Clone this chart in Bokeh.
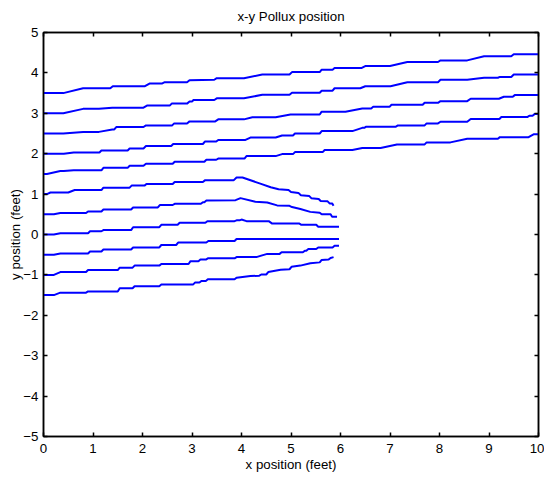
from bokeh.plotting import figure
from bokeh.models import Range1d, FixedTicker, LinearAxis
from bokeh.embed import file_html
from bokeh.resources import INLINE

# ---- data ----
x1 = [0, 0.4, 0.8, 1.35, 1.4, 2.05, 2.15, 2.4, 2.45, 2.9, 2.95, 3.45, 3.5, 4.05, 4.42, 4.97, 5.02, 5.58, 5.62, 5.84, 5.88, 6.42, 6.5, 7.0, 7.35, 7.97, 8.02, 8.56, 8.9, 9.45, 9.5, 10]
y1 = [3.5, 3.5, 3.62, 3.62, 3.67, 3.67, 3.74, 3.74, 3.77, 3.77, 3.82, 3.83, 3.87, 3.87, 3.96, 3.96, 4.02, 4.02, 4.08, 4.08, 4.12, 4.12, 4.17, 4.17, 4.27, 4.27, 4.31, 4.31, 4.41, 4.41, 4.46, 4.46]

x2 = [0, 0.4, 0.8, 1.12, 1.39, 2.02, 2.09, 2.55, 2.59, 2.9, 2.95, 3.0, 3.03, 3.45, 3.5, 4.05, 4.42, 4.97, 5.02, 5.58, 5.62, 5.84, 5.88, 6.4, 6.5, 7.01, 7.35, 7.97, 8.02, 8.56, 8.9, 9.18, 9.22, 9.45, 9.5, 10]
y2 = [3.0, 3.0, 3.11, 3.11, 3.14, 3.14, 3.19, 3.19, 3.24, 3.24, 3.29, 3.29, 3.33, 3.33, 3.37, 3.37, 3.46, 3.46, 3.51, 3.51, 3.56, 3.56, 3.62, 3.62, 3.67, 3.67, 3.77, 3.77, 3.83, 3.83, 3.88, 3.88, 3.9, 3.9, 3.96, 3.96]

x3 = [0, 0.4, 0.8, 1.12, 1.39, 1.43, 1.47, 2.02, 2.07, 2.6, 2.64, 2.9, 2.95, 3.47, 3.53, 4.05, 4.22, 4.69, 4.99, 5.58, 5.62, 6.1, 6.44, 6.62, 6.66, 6.99, 7.03, 7.66, 7.7, 7.97, 8.02, 8.56, 8.63, 9.2, 9.3, 9.48, 9.52, 10]
y3 = [2.5, 2.5, 2.54, 2.54, 2.6, 2.6, 2.66, 2.66, 2.7, 2.7, 2.75, 2.75, 2.8, 2.8, 2.85, 2.85, 2.9, 2.9, 2.97, 2.97, 3.04, 3.04, 3.12, 3.12, 3.16, 3.16, 3.21, 3.21, 3.26, 3.26, 3.3, 3.3, 3.36, 3.36, 3.41, 3.41, 3.45, 3.45]

x4 = [0, 0.41, 0.61, 1.13, 1.17, 1.7, 1.74, 2.02, 2.07, 2.58, 2.62, 3.22, 3.26, 3.49, 3.53, 4.08, 4.18, 4.69, 4.82, 5.04, 5.08, 5.58, 5.62, 6.24, 6.44, 6.48, 6.52, 7.12, 7.16, 7.7, 7.74, 7.97, 8.02, 8.56, 8.63, 9.21, 9.25, 9.78, 9.82, 9.88, 9.92, 10]
y4 = [2.0, 2.0, 2.03, 2.03, 2.08, 2.08, 2.13, 2.13, 2.19, 2.19, 2.24, 2.24, 2.3, 2.3, 2.34, 2.34, 2.4, 2.4, 2.45, 2.45, 2.5, 2.5, 2.56, 2.56, 2.64, 2.64, 2.67, 2.67, 2.7, 2.7, 2.75, 2.75, 2.79, 2.79, 2.86, 2.86, 2.91, 2.91, 2.94, 2.94, 2.98, 2.98]

x5 = [0, 0.07, 0.34, 0.41, 0.61, 1.17, 1.21, 1.7, 1.74, 2.02, 2.07, 2.61, 2.65, 3.25, 3.29, 3.49, 3.53, 4.06, 4.1, 4.69, 4.82, 5.04, 5.08, 5.64, 5.68, 6.24, 6.44, 6.81, 7.14, 7.7, 7.74, 8.22, 8.56, 9.18, 9.22, 9.8, 9.9, 10]
y5 = [1.5, 1.5, 1.57, 1.57, 1.59, 1.59, 1.65, 1.65, 1.7, 1.7, 1.75, 1.75, 1.8, 1.8, 1.85, 1.85, 1.88, 1.88, 1.94, 1.94, 1.99, 1.99, 2.04, 2.04, 2.09, 2.09, 2.14, 2.14, 2.23, 2.23, 2.28, 2.28, 2.37, 2.37, 2.41, 2.41, 2.48, 2.48]

x6 = [0, 0.07, 0.14, 0.5, 0.63, 1.17, 1.21, 1.74, 1.78, 2.04, 2.08, 2.61, 2.65, 3.22, 3.26, 3.84, 3.9, 4.02, 4.38, 4.59, 4.75, 4.95, 5.0, 5.15, 5.2, 5.37, 5.41, 5.56, 5.6, 5.74, 5.78, 5.83, 5.86]
y6 = [1.0, 1.0, 1.04, 1.04, 1.1, 1.1, 1.16, 1.16, 1.21, 1.21, 1.25, 1.25, 1.3, 1.3, 1.34, 1.34, 1.41, 1.41, 1.26, 1.17, 1.12, 1.1, 1.05, 1.03, 0.97, 0.95, 0.9, 0.88, 0.83, 0.82, 0.77, 0.77, 0.71]

x7 = [0, 0.21, 0.34, 0.86, 0.9, 1.17, 1.21, 1.77, 1.81, 2.31, 2.35, 2.61, 2.65, 3.18, 3.22, 3.25, 3.29, 3.88, 3.98, 4.28, 4.52, 4.72, 4.97, 5.02, 5.19, 5.39, 5.58, 5.62, 5.8, 5.83, 5.93]
y7 = [0.5, 0.5, 0.53, 0.53, 0.57, 0.57, 0.62, 0.62, 0.67, 0.67, 0.73, 0.73, 0.76, 0.76, 0.8, 0.8, 0.84, 0.85, 0.9, 0.81, 0.79, 0.72, 0.71, 0.68, 0.63, 0.56, 0.54, 0.5, 0.5, 0.44, 0.44]

x8 = [0, 0.21, 0.34, 0.9, 0.94, 1.17, 1.21, 1.77, 1.81, 2.34, 2.38, 2.71, 2.75, 3.27, 3.31, 3.86, 3.9, 3.96, 4.0, 4.1, 4.55, 4.62, 5.17, 5.21, 5.51, 5.55, 5.97]
y8 = [0.0, 0.0, 0.03, 0.03, 0.08, 0.08, 0.11, 0.11, 0.18, 0.18, 0.24, 0.24, 0.29, 0.29, 0.33, 0.33, 0.35, 0.35, 0.37, 0.33, 0.33, 0.27, 0.27, 0.24, 0.24, 0.19, 0.19]

x9 = [0, 0.21, 0.34, 0.9, 0.94, 1.17, 1.21, 1.77, 1.81, 2.34, 2.38, 2.68, 2.72, 3.29, 3.33, 3.86, 3.9, 5.97]
y9 = [-0.5, -0.5, -0.47, -0.47, -0.42, -0.42, -0.37, -0.37, -0.32, -0.32, -0.26, -0.26, -0.2, -0.2, -0.16, -0.16, -0.11, -0.11]

x10 = [0, 0.21, 0.34, 0.86, 0.9, 1.5, 1.54, 1.8, 1.84, 2.34, 2.38, 2.93, 2.97, 3.13, 3.17, 3.28, 3.32, 3.86, 3.9, 4.3, 4.52, 4.77, 4.81, 5.24, 5.28, 5.31, 5.35, 5.51, 5.55, 5.84, 5.88, 5.97]
y10 = [-1.0, -1.0, -0.93, -0.93, -0.88, -0.88, -0.82, -0.82, -0.77, -0.77, -0.73, -0.73, -0.66, -0.66, -0.62, -0.62, -0.59, -0.59, -0.56, -0.56, -0.48, -0.48, -0.44, -0.44, -0.4, -0.4, -0.36, -0.36, -0.32, -0.32, -0.28, -0.28]

x11 = [0, 0.21, 0.34, 0.86, 0.9, 1.5, 1.54, 1.8, 1.84, 2.34, 2.38, 3.02, 3.06, 3.15, 3.19, 3.28, 3.32, 3.86, 3.9, 4.18, 4.36, 4.4, 4.5, 4.54, 4.79, 4.97, 5.01, 5.19, 5.39, 5.58, 5.62, 5.76, 5.8, 5.86]
y11 = [-1.5, -1.5, -1.44, -1.44, -1.41, -1.41, -1.33, -1.33, -1.28, -1.28, -1.24, -1.24, -1.19, -1.19, -1.15, -1.15, -1.11, -1.11, -1.07, -1.03, -1.02, -0.99, -0.99, -0.93, -0.87, -0.86, -0.8, -0.77, -0.71, -0.69, -0.63, -0.62, -0.58, -0.56]

x_ticks = [0, 1, 2, 3, 4, 5, 6, 7, 8, 9, 10]
y_ticks = [-5, -4, -3, -2, -1, 0, 1, 2, 3, 4, 5]

title_text = "x-y Pollux position"
x_label = "x position (feet)"
y_label = "y position (feet)"

FONT = "Liberation Sans"
FS = "13.3px"

xs_all = [x1, x2, x3, x4, x5, x6, x7, x8, x9, x10, x11]
ys_all = [y1, y2, y3, y4, y5, y6, y7, y8, y9, y10, y11]

p = figure(width=544, height=484,
           x_range=Range1d(0, 10), y_range=Range1d(-5, 5),
           output_backend="svg", toolbar_location=None,
           min_border_left=43, min_border_right=6,
           min_border_top=32, min_border_bottom=48)
p.background_fill_color = "white"
p.border_fill_color = "white"
p.outline_line_color = "black"
p.outline_line_width = 1.5
p.xgrid.visible = False
p.ygrid.visible = False

def style_axis(ax, ticks, show_labels):
    ax.ticker = FixedTicker(ticks=ticks)
    ax.axis_line_color = "black"
    ax.axis_line_width = 1.5
    ax.major_tick_in = 4
    ax.major_tick_out = 0
    ax.major_tick_line_color = "black"
    ax.major_tick_line_width = 1.5
    ax.minor_tick_in = 0
    ax.minor_tick_out = 0
    ax.minor_tick_line_color = None
    ax.major_label_text_font = FONT
    ax.major_label_text_font_size = FS
    ax.major_label_text_color = "black"
    ax.axis_label_text_font = FONT
    ax.axis_label_text_font_size = FS
    ax.axis_label_text_font_style = "normal"
    ax.axis_label_text_color = "black"
    if not show_labels:
        ax.major_label_overrides = {t: "" for t in ticks}
        ax.major_label_standoff = 0

style_axis(p.xaxis[0], x_ticks, True)
style_axis(p.yaxis[0], y_ticks, True)
p.xaxis[0].axis_label = x_label
p.yaxis[0].axis_label = y_label
p.xaxis[0].major_label_standoff = 7
p.yaxis[0].major_label_standoff = 5
p.xaxis[0].axis_label_standoff = 1
p.yaxis[0].axis_label_standoff = -3

# top axis: ticks only, carries the chart title as its label
ax_top = LinearAxis()
style_axis(ax_top, x_ticks, False)
ax_top.axis_label = title_text
ax_top.axis_label_standoff = 9
p.add_layout(ax_top, "above")

ax_right = LinearAxis()
style_axis(ax_right, y_ticks, False)
p.add_layout(ax_right, "right")

p.multi_line(xs=xs_all, ys=ys_all, line_color="#0000FF", line_width=2)

open("out.html", "w").write(file_html(p, INLINE))
